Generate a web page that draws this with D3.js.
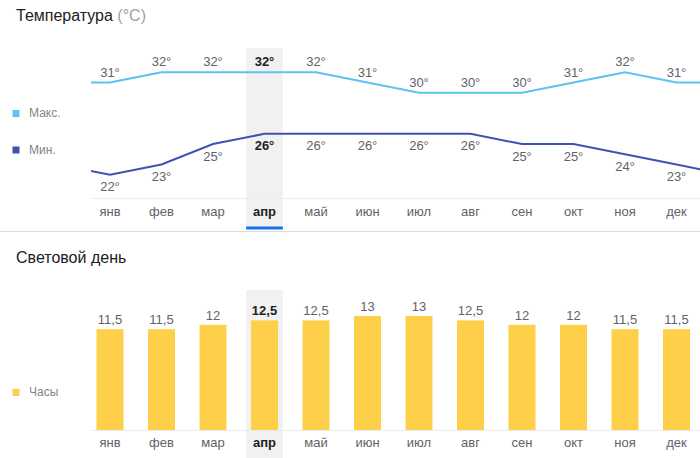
<!DOCTYPE html>
<html><head><meta charset="utf-8">
<script src="https://cdn.jsdelivr.net/npm/d3@7"></script>
<style>
html,body{margin:0;padding:0;background:#fff;}
svg{display:block;font-family:"Liberation Sans",Arial,sans-serif;}
</style></head>
<body>
<svg id="c" width="700" height="458"></svg>
<script>
const months = ["янв","фев","мар","апр","май","июн","июл","авг","сен","окт","ноя","дек"];
const tempMax = [31,32,32,32,32,31,30,30,30,31,32,31];
const tempMin = [22,23,25,26,26,26,26,26,25,25,24,23];
const daylight = [11.5,11.5,12,12.5,12.5,13,13,12.5,12,12,11.5,11.5];
const highlight = "апр";

const svg = d3.select("#c");
const W = 700, H = 458;

const x = d3.scaleBand().domain(months).range([84.25, 702.25]).padding(0);
const xBar = d3.scaleBand().domain(months).range([84.25, 702.25]).paddingInner(0.476).paddingOuter(0.238);
const xHi = d3.scaleBand().domain(months).range([84.25, 702.25]).paddingInner(0.287).paddingOuter(0.1435);
const cx = m => x(m) + x.bandwidth()/2;
const xi = d3.scaleLinear().domain([0, 11]).range([cx(months[0]), cx(months[11])]);

const yT = d3.scaleLinear().domain([22, 32]).range([174.8, 72.3]);
const yB = d3.scaleLinear().domain([0, 13]).range([430, 316]);

const labelColor = "#5f6368", boldColor = "#202124";

// ---------- Temperature section ----------
const t = svg.append("text").attr("x", 16).attr("y", 21).attr("font-size", 16).attr("fill", boldColor);
t.append("tspan").text("Температура ");
t.append("tspan").attr("fill", "#9aa0a6").text("(°C)");

// highlight band
svg.append("rect").attr("x", xHi(highlight)).attr("y", 48).attr("width", xHi.bandwidth()).attr("height", 180).attr("fill", "#f1f1f1");
svg.append("rect").attr("x", xHi(highlight)).attr("y", 226.5).attr("width", xHi.bandwidth()).attr("height", 3).attr("fill", "#1a73e8");

// axis baseline
svg.append("line").attr("x1", 91).attr("x2", 700).attr("y1", 198.5).attr("y2", 198.5).attr("stroke", "#ececec");
// separator
svg.append("line").attr("x1", 0).attr("x2", 700).attr("y1", 231.5).attr("y2", 231.5).attr("stroke", "#dadce0");

svg.append("defs").append("clipPath").attr("id", "clip").append("rect").attr("x", 91).attr("y", 0).attr("width", 609).attr("height", 240);

function wrapped(arr) {
  const pts = arr.map((v, i) => [i, v]);
  return [[-1, arr[11]], ...pts, [12, arr[0]]];
}
const line = d3.line().x(d => xi(d[0])).y(d => yT(d[1]));
const g = svg.append("g").attr("clip-path", "url(#clip)");
g.append("path").attr("d", line(wrapped(tempMax))).attr("fill", "none").attr("stroke", "#5bc3f1").attr("stroke-width", 2);
g.append("path").attr("d", line(wrapped(tempMin))).attr("fill", "none").attr("stroke", "#3f51b5").attr("stroke-width", 2);

svg.selectAll(".lmax").data(months).join("text")
  .attr("x", d => cx(d)).attr("y", (d, i) => yT(tempMax[i]) - 6)
  .attr("text-anchor", "middle").attr("font-size", 13)
  .attr("font-weight", d => d === highlight ? "bold" : "normal")
  .attr("fill", d => d === highlight ? boldColor : labelColor)
  .text((d, i) => tempMax[i] + "°");
svg.selectAll(".lmin").data(months).join("text")
  .attr("x", d => cx(d)).attr("y", (d, i) => yT(tempMin[i]) + 16.5)
  .attr("text-anchor", "middle").attr("font-size", 13)
  .attr("font-weight", d => d === highlight ? "bold" : "normal")
  .attr("fill", d => d === highlight ? boldColor : labelColor)
  .text((d, i) => tempMin[i] + "°");

svg.selectAll(".m1").data(months).join("text")
  .attr("x", d => cx(d)).attr("y", 216)
  .attr("text-anchor", "middle").attr("font-size", 13)
  .attr("font-weight", d => d === highlight ? "bold" : "normal")
  .attr("fill", d => d === highlight ? boldColor : labelColor)
  .text(d => d);

// legend
const legend1 = [["Макс.", "#5bc3f1", 117], ["Мин.", "#3f51b5", 153.5]];
legend1.forEach(([name, col, yy]) => {
  svg.append("rect").attr("x", 12.5).attr("y", yy - 7).attr("width", 7).attr("height", 7).attr("fill", col);
  svg.append("text").attr("x", 29).attr("y", yy).attr("font-size", 12).attr("fill", "#80868b").text(name);
});

// ---------- Daylight section ----------
svg.append("text").attr("x", 16).attr("y", 263).attr("font-size", 16).attr("fill", boldColor).text("Световой день");

svg.append("rect").attr("x", xHi(highlight)).attr("y", 290).attr("width", xHi.bandwidth()).attr("height", 168).attr("fill", "#f1f1f1");

svg.append("line").attr("x1", 91).attr("x2", 700).attr("y1", 430.5).attr("y2", 430.5).attr("stroke", "#ececec");

svg.selectAll(".bar").data(months).join("rect")
  .attr("x", d => xBar(d)).attr("width", xBar.bandwidth())
  .attr("y", (d, i) => yB(daylight[i])).attr("height", (d, i) => yB(0) - yB(daylight[i]))
  .attr("fill", "#fecf48");

const fmt = v => String(v).replace(".", ",");
svg.selectAll(".bl").data(months).join("text")
  .attr("x", d => cx(d)).attr("y", (d, i) => yB(daylight[i]) - 5)
  .attr("text-anchor", "middle").attr("font-size", 13)
  .attr("font-weight", d => d === highlight ? "bold" : "normal")
  .attr("fill", d => d === highlight ? boldColor : labelColor)
  .text((d, i) => fmt(daylight[i]));

svg.selectAll(".m2").data(months).join("text")
  .attr("x", d => cx(d)).attr("y", 447)
  .attr("text-anchor", "middle").attr("font-size", 13)
  .attr("font-weight", d => d === highlight ? "bold" : "normal")
  .attr("fill", d => d === highlight ? boldColor : labelColor)
  .text(d => d);

svg.append("rect").attr("x", 12.5).attr("y", 389).attr("width", 7).attr("height", 7).attr("fill", "#fecf48");
svg.append("text").attr("x", 29).attr("y", 396).attr("font-size", 12).attr("fill", "#80868b").text("Часы");
</script>
</body></html>
